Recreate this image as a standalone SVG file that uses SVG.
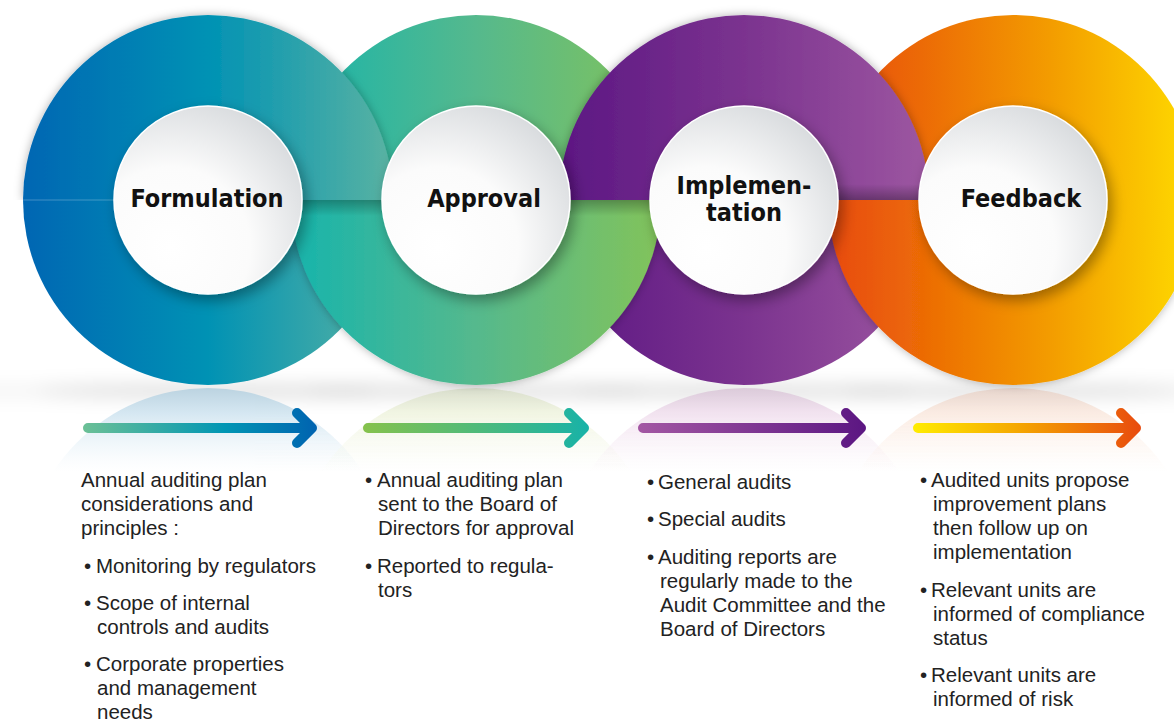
<svg xmlns="http://www.w3.org/2000/svg" width="1174" height="721" viewBox="0 0 1174 721">
<style>
.title{font-family:"DejaVu Sans Condensed","DejaVu Sans",sans-serif;font-weight:bold;font-size:25px;fill:#111;text-anchor:middle}
.body{font-family:"Liberation Sans",Arial,sans-serif;font-size:20.5px;fill:#222}
.arrow{fill:none;stroke-width:10;stroke-linecap:round;stroke-linejoin:round}
.disc{fill:url(#discG);stroke:#fff;stroke-width:1.5}
</style>
<defs>
<linearGradient id="g1" gradientUnits="userSpaceOnUse" x1="23" y1="0" x2="393" y2="0">
<stop offset="0" stop-color="#0066b3"/><stop offset="0.5" stop-color="#0092b4"/><stop offset="1" stop-color="#5ab3a2"/></linearGradient>
<linearGradient id="g2" gradientUnits="userSpaceOnUse" x1="291" y1="0" x2="661" y2="0">
<stop offset="0" stop-color="#17b4ac"/><stop offset="0.5" stop-color="#55b98d"/><stop offset="1" stop-color="#82c35a"/></linearGradient>
<linearGradient id="g3" gradientUnits="userSpaceOnUse" x1="559" y1="0" x2="929" y2="0">
<stop offset="0" stop-color="#5c1783"/><stop offset="0.5" stop-color="#7b338f"/><stop offset="1" stop-color="#9d57a1"/></linearGradient>
<linearGradient id="g4" gradientUnits="userSpaceOnUse" x1="828" y1="0" x2="1198" y2="0">
<stop offset="0" stop-color="#e84a0f"/><stop offset="0.25" stop-color="#ec6a06"/><stop offset="0.6" stop-color="#f39c00"/><stop offset="1" stop-color="#ffdc00"/></linearGradient>
<radialGradient id="discG" cx="0.3" cy="0.75" r="0.85" fx="0.3" fy="0.75">
<stop offset="0" stop-color="#ffffff"/><stop offset="0.5" stop-color="#fbfbfb"/><stop offset="1" stop-color="#d6d9dc"/></radialGradient>
<linearGradient id="a1" gradientUnits="userSpaceOnUse" x1="83" y1="0" x2="318" y2="0">
<stop offset="0" stop-color="#6cc096"/><stop offset="0.6" stop-color="#0096b4"/><stop offset="1" stop-color="#0062b0"/></linearGradient>
<linearGradient id="a2" gradientUnits="userSpaceOnUse" x1="363" y1="0" x2="590" y2="0">
<stop offset="0" stop-color="#86c24c"/><stop offset="1" stop-color="#17b2a8"/></linearGradient>
<linearGradient id="a3" gradientUnits="userSpaceOnUse" x1="638" y1="0" x2="867" y2="0">
<stop offset="0" stop-color="#a357a3"/><stop offset="1" stop-color="#5b1682"/></linearGradient>
<linearGradient id="a4" gradientUnits="userSpaceOnUse" x1="913" y1="0" x2="1142" y2="0">
<stop offset="0" stop-color="#ffec00"/><stop offset="0.45" stop-color="#f5a800"/><stop offset="1" stop-color="#e84a0f"/></linearGradient>
<linearGradient id="fadeB" x1="0" y1="0" x2="0" y2="1"><stop offset="0" stop-color="#000" stop-opacity="0.28"/><stop offset="1" stop-color="#000" stop-opacity="0"/></linearGradient>
<linearGradient id="fadeT" x1="0" y1="1" x2="0" y2="0"><stop offset="0" stop-color="#000" stop-opacity="0.3"/><stop offset="1" stop-color="#000" stop-opacity="0"/></linearGradient>
<linearGradient id="d1" gradientUnits="userSpaceOnUse" x1="0" y1="388" x2="0" y2="472"><stop offset="0" stop-color="#b9d2e0"/><stop offset="0.3" stop-color="#d3e6f1"/><stop offset="1" stop-color="#eaf4fa" stop-opacity="0"/></linearGradient>
<linearGradient id="d2" gradientUnits="userSpaceOnUse" x1="0" y1="388" x2="0" y2="472"><stop offset="0" stop-color="#d6dcc6"/><stop offset="0.3" stop-color="#eef3dc"/><stop offset="1" stop-color="#f6f9ec" stop-opacity="0"/></linearGradient>
<linearGradient id="d3" gradientUnits="userSpaceOnUse" x1="0" y1="388" x2="0" y2="472"><stop offset="0" stop-color="#d8c3d6"/><stop offset="0.3" stop-color="#efdcec"/><stop offset="1" stop-color="#f8eef6" stop-opacity="0"/></linearGradient>
<linearGradient id="d4" gradientUnits="userSpaceOnUse" x1="0" y1="388" x2="0" y2="472"><stop offset="0" stop-color="#e6d0c6"/><stop offset="0.3" stop-color="#fae7dc"/><stop offset="1" stop-color="#fdf3ec" stop-opacity="0"/></linearGradient>
<filter id="blur" x="-20%" y="-300%" width="140%" height="700%"><feGaussianBlur stdDeviation="9"/></filter>
<filter id="edge" x="-10%" y="-10%" width="120%" height="120%"><feDropShadow dx="0" dy="0" stdDeviation="5" flood-color="#000" flood-opacity="0.3"/></filter>
<filter id="discSh" x="-30%" y="-30%" width="160%" height="160%"><feDropShadow dx="4" dy="6" stdDeviation="7" flood-color="#000" flood-opacity="0.35"/></filter>
<clipPath id="topClip"><rect x="0" y="0" width="1174" height="200"/></clipPath>
<clipPath id="botClip"><rect x="0" y="200" width="1174" height="200"/></clipPath>
<clipPath id="domeClip"><rect x="0" y="386" width="1174" height="88"/></clipPath>
</defs>

<g id="reflections">
<g filter="url(#blur)" fill="#000">
<rect x="-20" y="386" width="1214" height="10" opacity="0.06"/>
<ellipse cx="208" cy="391" rx="170" ry="6" opacity="0.1"/>
<ellipse cx="476" cy="391" rx="170" ry="6" opacity="0.1"/>
<ellipse cx="744" cy="391" rx="170" ry="6" opacity="0.1"/>
<ellipse cx="1013" cy="391" rx="170" ry="6" opacity="0.1"/>
</g>
<g clip-path="url(#domeClip)" opacity="0.95">
<circle cx="208" cy="573" r="185" fill="url(#d1)"/>
<circle cx="476" cy="573" r="185" fill="url(#d2)" opacity="0.85"/>
<circle cx="744" cy="573" r="185" fill="url(#d3)" opacity="0.85"/>
<circle cx="1013" cy="573" r="185" fill="url(#d4)" opacity="0.85"/>
</g>
</g>

<g id="rings">
<g id="bottom-under">
<path d="M23,200 A185,185 0 0 0 393,200 Z" fill="url(#g1)"/>
<path d="M559,200 A185,185 0 0 0 929,200 Z" fill="url(#g3)"/>
</g>
<g id="bottom-over" clip-path="url(#botClip)">
<path d="M291,200 A185,185 0 0 0 661,200 Z" fill="url(#g2)" filter="url(#edge)"/>
<path d="M828,200 A185,185 0 0 0 1198,200 Z" fill="url(#g4)" filter="url(#edge)"/>
</g>
<g id="top-under">
<path d="M291,200 A185,185 0 0 1 661,200 Z" fill="url(#g2)"/>
<path d="M828,200 A185,185 0 0 1 1198,200 Z" fill="url(#g4)"/>
</g>
<g id="top-over" clip-path="url(#topClip)">
<path d="M23,200 A185,185 0 0 1 393,200 Z" fill="url(#g1)" filter="url(#edge)"/>
<path d="M559,200 A185,185 0 0 1 929,200 Z" fill="url(#g3)" filter="url(#edge)"/>
</g>
<g id="junctions">
<rect x="290" y="200" width="100" height="16" fill="url(#fadeB)"/>
<rect x="560" y="200" width="100" height="16" fill="url(#fadeB)"/>
<rect x="828" y="184" width="100" height="16" fill="url(#fadeT)"/>
<line x1="23" y1="200" x2="115" y2="200" stroke="#ffffff" stroke-opacity="0.25" stroke-width="1"/>
</g>
</g>

<g id="node-formulation">
<circle class="disc" cx="208" cy="200" r="94" filter="url(#discSh)"/>
<text class="title" x="207" y="207">Formulation</text>
</g>
<g id="node-approval">
<circle class="disc" cx="476" cy="200" r="94" filter="url(#discSh)"/>
<text class="title" x="484" y="207">Approval</text>
</g>
<g id="node-implementation">
<circle class="disc" cx="744" cy="200" r="94" filter="url(#discSh)"/>
<text class="title" x="744" y="194">Implemen-</text>
<text class="title" x="744" y="221">tation</text>
</g>
<g id="node-feedback">
<circle class="disc" cx="1013" cy="200" r="94" filter="url(#discSh)"/>
<text class="title" x="1021" y="207">Feedback</text>
</g>

<g id="connectors">
<path class="arrow" stroke="url(#a1)" d="M88,428 H312 M297,413 L312,428 L297,443"/>
<path class="arrow" stroke="url(#a2)" d="M368,428 H584 M569,413 L584,428 L569,443"/>
<path class="arrow" stroke="url(#a3)" d="M643,428 H861 M846,413 L861,428 L846,443"/>
<path class="arrow" stroke="url(#a4)" d="M918,428 H1136 M1121,413 L1136,428 L1121,443"/>
</g>

<g id="text-formulation" class="body">
<text x="81" y="487">Annual auditing plan</text>
<text x="81" y="511">considerations and</text>
<text x="81" y="535">principles :</text>
<text x="84" y="573">•</text><text x="96" y="573">Monitoring by regulators</text>
<text x="84" y="610">•</text><text x="96" y="610">Scope of internal</text>
<text x="97" y="634">controls and audits</text>
<text x="84" y="671">•</text><text x="96" y="671">Corporate properties</text>
<text x="97" y="695">and management</text>
<text x="97" y="719">needs</text>
</g>
<g id="text-approval" class="body">
<text x="365" y="487">•</text><text x="377" y="487">Annual auditing plan</text>
<text x="378" y="511">sent to the Board of</text>
<text x="378" y="535">Directors for approval</text>
<text x="365" y="573">•</text><text x="377" y="573">Reported to regula-</text>
<text x="378" y="597">tors</text>
</g>
<g id="text-implementation" class="body">
<text x="647" y="489">•</text><text x="658" y="489">General audits</text>
<text x="647" y="526">•</text><text x="658" y="526">Special audits</text>
<text x="647" y="564">•</text><text x="658" y="564">Auditing reports are</text>
<text x="660" y="588">regularly made to the</text>
<text x="660" y="612">Audit Committee and the</text>
<text x="660" y="636">Board of Directors</text>
</g>
<g id="text-feedback" class="body">
<text x="920" y="487">•</text><text x="931" y="487">Audited units propose</text>
<text x="933" y="511">improvement plans</text>
<text x="933" y="535">then follow up on</text>
<text x="933" y="559">implementation</text>
<text x="920" y="597">•</text><text x="931" y="597">Relevant units are</text>
<text x="933" y="621">informed of compliance</text>
<text x="933" y="645">status</text>
<text x="920" y="682">•</text><text x="931" y="682">Relevant units are</text>
<text x="933" y="706">informed of risk</text>
</g>
</svg>
